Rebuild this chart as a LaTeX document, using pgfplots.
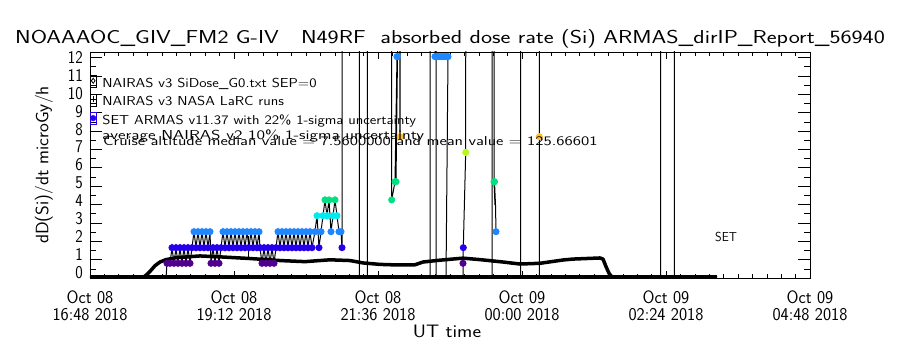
\documentclass[border=0pt]{standalone}
\usepackage{pgfplots}
\usepackage{pgfplotstable}
\usepackage{graphicx}
\pgfplotsset{compat=1.18}
\newcommand\hs[2]{\scalebox{#1}[1]{#2}}
\newcommand\yl[2]{\raisebox{#1pt}[\height][\depth]{\hs{.88}{#2}}}
\definecolor{cP}{RGB}{80,0,140}
\definecolor{cB}{RGB}{38,0,235}
\definecolor{cC}{RGB}{30,135,255}
\definecolor{cCy}{RGB}{0,235,240}
\definecolor{cG}{RGB}{0,225,130}
\definecolor{cY}{RGB}{180,250,20}
\definecolor{cO}{RGB}{255,190,40}

% x = minutes after Oct 08 16:48 UT
\pgfplotstableread{
x y
0 0
50 0
55 0.1
60 0.36
65 0.67
70 0.87
76 1.0
87 1.11
110 1.2
130 1.15
160 1.06
190 0.95
215 0.89
240 0.99
260 0.95
273 0.82
290 0.74
307 0.71
325 0.72
333 0.87
350 0.97
373 1.08
390 1.0
413 0.87
430 0.76
450 0.8
473 0.98
483 1.03
510 1.09
513 1.03
516 0.62
519 0.26
522 0.05
525 0
627 0
}\nairas

\pgfplotstableread{
x y c
76 0 n
77 0.80 p
80 0.80 p
82 1.65 b
84 0.80 p
86 1.65 b
88 0.80 p
90 1.65 b
92 0.80 p
94 1.65 b
96 0.80 p
98 1.65 b
100 0.80 p
102 1.65 b
104 2.52 c
106 1.65 b
108 2.52 c
110 1.65 b
112 2.52 c
114 1.65 b
116 2.52 c
118 1.65 b
120 2.52 c
121 0.80 p
123 1.65 b
125 0.80 p
127 1.65 b
129 0.80 p
131 1.65 b
133 2.52 c
135 1.65 b
137 2.52 c
139 1.65 b
141 2.52 c
143 1.65 b
145 2.52 c
147 1.65 b
149 2.52 c
151 1.65 b
153 2.52 c
155 1.65 b
157 2.52 c
159 1.65 b
161 2.52 c
163 1.65 b
165 2.52 c
167 1.65 b
169 2.52 c
170 1.65 b
172 0.80 p
174 1.65 b
176 0.80 p
178 1.65 b
180 0.80 p
182 1.65 b
184 0.80 p
186 1.65 b
188 2.52 c
190 1.65 b
192 2.52 c
194 1.65 b
196 2.52 c
198 1.65 b
200 2.52 c
202 1.65 b
204 2.52 c
206 1.65 b
208 2.52 c
210 1.65 b
212 2.52 c
214 1.65 b
216 2.52 c
218 1.65 b
220 2.52 c
222 1.65 b
225 2.52 c
227 3.39 y3
229 1.65 b
231 2.52 c
233 3.39 y3
235 4.25 g
237 3.39 y3
239 4.25 g
241 2.52 c
243 3.39 y3
245 4.25 g
247 3.39 y3
249 2.52 c
251 2.52 c
252 1.65 b
252 40 n
269.3 40 n
269.3 0 n
277.3 0 n
277.3 40 n
301.7 40 n
301.7 4.25 g
305 5.24 g
307 12.05 c
306 5.24 g
307.5 12.05 c
309 40 n
310 7.69 o
311.7 40 n
340 40 n
340 0 n
346 0 n
346 40 n
345 12.05 c
347 12.05 c
349 12.05 c
351 12.05 c
353 12.05 c
355 12.05 c
357 12.05 c
358 12.05 c
356 0 n
373 0 n
373 0.80 p
373.3 1.65 b
375.7 6.84 yg
376 40 n
376 nan n
402 0 n
402 40 n
404 40 n
404 5.24 g
405 3.97 n
404.5 5.24 g
405.5 3.97 n
406 2.52 c
406 nan n
430.5 0 n
430.5 40 n
449.3 40 n
449.3 7.69 o
449.3 0 n
449.3 nan n
570.7 0 n
570.7 40 n
584.3 40 n
584.3 0 n
}\setdata

\begin{document}
\begin{tikzpicture}
\begin{axis}[
  scale only axis, width=720pt, height=226pt,
  xmin=0, xmax=720, ymin=0, ymax=12.3,
  axis line style={line width=0.8pt},
  xtick={0,144,288,432,576,720},
  xticklabels={
    {\hs{0.96}{Oct 08}\\\hs{0.96}{16:48 2018}},
    {\hs{0.96}{Oct 08}\\\hs{0.96}{19:12 2018}},
    {\hs{0.96}{Oct 08}\\\hs{0.96}{21:36 2018}},
    {\hs{0.96}{Oct 09}\\\hs{0.96}{00:00 2018}},
    {\hs{0.96}{Oct 09}\\\hs{0.96}{02:24 2018}},
    {\hs{0.96}{Oct 09}\\\hs{0.96}{04:48 2018}}},
  minor x tick num=9,
  ytick={0,1,...,12},
  yticklabels={\yl{5.4}{0},\yl{4.95}{1},\yl{4.5}{2},\yl{4.05}{3},\yl{3.6}{4},\yl{3.15}{5},\yl{2.7}{6},\yl{2.25}{7},\yl{1.8}{8},\yl{1.35}{9},\yl{0.9}{10},\yl{0.45}{11},\yl{0}{12}},
  minor y tick num=1,
  tick align=inside,
  xtick style={/pgfplots/major tick length=7pt, /pgfplots/minor tick length=4pt, black, line width=0.6pt},
  ytick style={/pgfplots/major tick length=12pt, /pgfplots/minor tick length=6pt, black, line width=0.6pt},
  ticklabel style={font=\fontsize{18}{17}\selectfont\sffamily},
  xticklabel style={align=center, anchor=north, inner sep=0pt, yshift=-13pt},
  yticklabel style={anchor=east, inner sep=0pt, xshift=-7pt},
  unbounded coords=jump,
  legend style={draw=none, fill=none, at={(axis description cs:0,0.898)}, anchor=north west,
    inner sep=0pt, outer sep=0pt, row sep=2.5pt, column sep=6pt,
    font=\fontsize{13}{13}\selectfont\sffamily,
    nodes={inner sep=0pt, text height=10pt, text depth=4pt}},
  legend cell align=left,
  legend image code/.code={\path (0pt,-3pt) rectangle (6pt,9pt); \draw[#1] plot coordinates {(3pt,3.5pt)};},
]
\coordinate (O) at (rel axis cs:0,0);
\addlegendimage{only marks, mark=diamond, mark size=2.5pt, black, mark options={line width=0.8pt}}
\addlegendentry{\hs{1.15}{NAIRAS v3 SiDose\_G0.txt SEP=0}}
\addlegendimage{only marks, mark=+, mark size=3pt, black, mark options={line width=0.8pt}}
\addlegendentry{\hs{1.15}{NAIRAS v3 NASA LaRC runs}}
\addlegendimage{only marks, mark=*, mark size=2.8pt, cB}
\addlegendentry{\hs{1.15}{SET ARMAS v11.37 with 22\% 1-sigma uncertainty}}

% zero baseline of the SET series
\addplot[forget plot, black, line width=5pt] coordinates {(0,0) (627,0)};
% NAIRAS v3 model
\addplot[forget plot, black, line width=3.5pt, line join=round] table[x=x,y=y] {\nairas};
% NAIRAS LaRC run with error bar
\addplot[forget plot, black, only marks, mark=none, line width=0.8pt,
  error bars/.cd, y dir=both, y explicit, error mark=-, error mark options={mark size=3.5pt, line width=0.8pt}]
  coordinates {(158,1.69) +- (0,0.38)};
% SET ARMAS measurements
\addplot[forget plot, black, line width=1pt, scatter, mark=*, mark size=3pt,
  scatter src=explicit symbolic,
  scatter/classes={
    n={opacity=0},
    p={draw=cP, fill=cP},
    b={draw=cB, fill=cB},
    c={draw=cC, fill=cC},
    y3={draw=cCy, fill=cCy},
    g={draw=cG, fill=cG},
    yg={draw=cY, fill=cY},
    o={draw=cO, fill=cO}}]
  table[x=x, y=y, meta=c] {\setdata};
\end{axis}
\pgfresetboundingbox
\begin{scope}[shift={(O)}, x=1pt, y=1pt]
\path[use as bounding box] (-90,-72) rectangle (810,278);
\node[anchor=base, inner sep=0pt, font=\fontsize{18.7}{20}\selectfont\sffamily] at (360,234)
  {\hs{1.26}{NOAAAOC\_GIV\_FM2 G-IV\ \ \ N49RF\ \ absorbed dose rate (Si) ARMAS\_dirIP\_Report\_56940}};
\node[rotate=90, inner sep=0pt, font=\fontsize{18}{20}\selectfont\sffamily] at (-46,113)
  {\hs{1.04}{dD(Si)/dt microGy/h}};
\node[anchor=base, inner sep=0pt, font=\fontsize{18}{20}\selectfont\sffamily] at (357,-60)
  {\hs{1.14}{UT time}};
\node[anchor=base west, inner sep=0pt, font=\fontsize{13}{13}\selectfont\sffamily] at (12,138.5)
  {\hs{1.335}{average NAIRAS v2 10\% 1-sigma uncertainty}};
\node[anchor=base west, inner sep=0pt, font=\fontsize{13}{13}\selectfont\sffamily] at (13,132)
  {\hs{1.29}{Cruise altitude median value = 7.5600000 and mean value = 125.66601}};
\node[anchor=base west, inner sep=0pt, font=\fontsize{13}{13}\selectfont\sffamily] at (625,36)
  {\hs{0.93}{SET}};
\end{scope}
\end{tikzpicture}
\end{document}
